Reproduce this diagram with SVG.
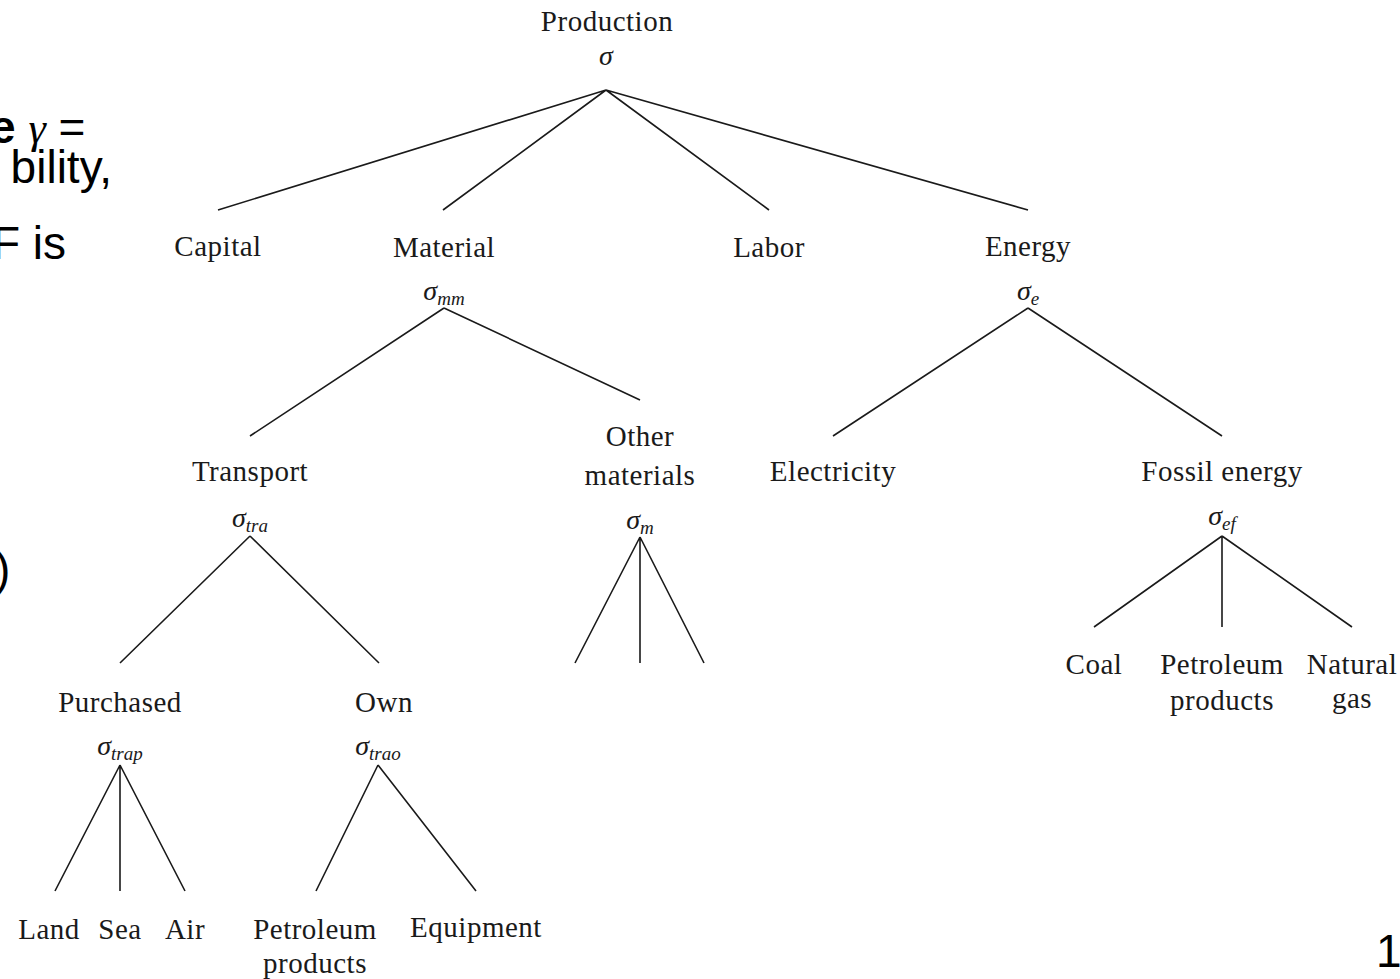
<svg xmlns="http://www.w3.org/2000/svg" width="1400" height="979" viewBox="0 0 1400 979">
<style>
.t{font-family:"Liberation Serif","DejaVu Serif",serif;font-size:29px;letter-spacing:0.5px;fill:#1a1a1a;text-anchor:middle}
.m{font-family:"Liberation Serif","DejaVu Serif",serif;font-style:italic;font-size:28px;fill:#1a1a1a;text-anchor:middle}
.s{font-size:19px}
.slide{font-family:"Liberation Sans",Arial,sans-serif;font-size:46px;fill:#000}
.e{stroke:#1a1a1a;stroke-width:1.6;fill:none}
</style>
<rect width="1400" height="979" fill="#fff"/>
<g id="slide-text">
<text class="slide" x="-10" y="143"><tspan font-weight="bold">e</tspan> <tspan font-family="Liberation Serif,serif" font-style="italic" font-size="44">γ</tspan> =</text>
<text class="slide" x="112" y="183" text-anchor="end">bility,</text>
<text class="slide" x="66" y="259" text-anchor="end">F is</text>
<text class="slide" x="-5" y="585">)</text>
<text class="slide" x="1376" y="967" font-size="28">11</text>
</g>
<g id="connectors">
<path class="e" d="M606 90L218 210M606 90L443 210M606 90L769 210M606 90L1028 210"/>
<path class="e" d="M444 308L250 436M444 308L640 400"/>
<path class="e" d="M1028 308L833 436M1028 308L1222 436"/>
<path class="e" d="M250 536L120 663M250 536L379 663"/>
<path class="e" d="M640 537L575 663M640 537L640 663M640 537L704 663"/>
<path class="e" d="M1222 536L1094 627M1222 536L1222 627M1222 536L1352 627"/>
<path class="e" d="M120 765L55 891M120 765L120 891M120 765L185 891"/>
<path class="e" d="M378 765L316 891M378 765L476 891"/>
</g>
<g id="production"><text class="t" x="607" y="31">Production</text><text class="m" x="606" y="65">σ</text></g>
<g id="capital"><text class="t" x="218" y="256">Capital</text></g>
<g id="material"><text class="t" x="444" y="257">Material</text><text class="m" x="444" y="300">σ<tspan class="s" dy="5">mm</tspan></text></g>
<g id="labor"><text class="t" x="769" y="257">Labor</text></g>
<g id="energy"><text class="t" x="1028" y="256">Energy</text><text class="m" x="1028" y="300">σ<tspan class="s" dy="5">e</tspan></text></g>
<g id="transport"><text class="t" x="250" y="481">Transport</text><text class="m" x="250" y="527">σ<tspan class="s" dy="5">tra</tspan></text></g>
<g id="other-materials"><text class="t" x="640" y="446">Other</text><text class="t" x="640" y="485">materials</text><text class="m" x="640" y="529">σ<tspan class="s" dy="5">m</tspan></text></g>
<g id="electricity"><text class="t" x="833" y="481">Electricity</text></g>
<g id="fossil-energy"><text class="t" x="1222" y="481">Fossil energy</text><text class="m" x="1222" y="525">σ<tspan class="s" dy="5">ef</tspan></text></g>
<g id="coal"><text class="t" x="1094" y="674">Coal</text></g>
<g id="petroleum-products-e"><text class="t" x="1222" y="674">Petroleum</text><text class="t" x="1222" y="710">products</text></g>
<g id="natural-gas"><text class="t" x="1352" y="674">Natural</text><text class="t" x="1352" y="708">gas</text></g>
<g id="purchased"><text class="t" x="120" y="712">Purchased</text><text class="m" x="120" y="755">σ<tspan class="s" dy="5">trap</tspan></text></g>
<g id="own"><text class="t" x="384" y="712">Own</text><text class="m" x="378" y="755">σ<tspan class="s" dy="5">trao</tspan></text></g>
<g id="land"><text class="t" x="49" y="939">Land</text></g>
<g id="sea"><text class="t" x="120" y="939">Sea</text></g>
<g id="air"><text class="t" x="185" y="939">Air</text></g>
<g id="petroleum-products-t"><text class="t" x="315" y="939">Petroleum</text><text class="t" x="315" y="973">products</text></g>
<g id="equipment"><text class="t" x="476" y="937">Equipment</text></g>
</svg>
